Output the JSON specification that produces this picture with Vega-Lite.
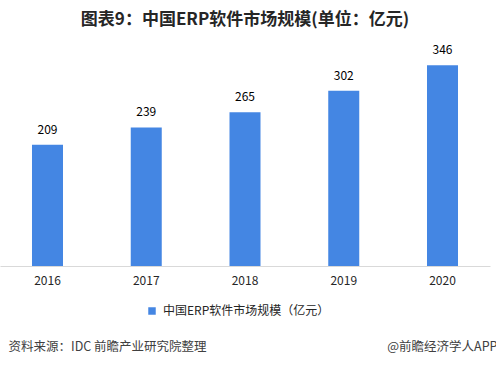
{
  "$schema": "https://vega.github.io/schema/vega-lite/v6.json",
  "autosize": {"type": "none"},
  "width": 490,
  "height": 232,
  "padding": {"left": 0, "top": 34, "right": 6, "bottom": 100},
  "background": "white",
  "config": {
    "font": "Noto Sans CJK SC",
    "view": {"stroke": null}
  },
  "title": {
    "text": "图表9：中国ERP软件市场规模(单位：亿元)",
    "fontSize": 17,
    "fontWeight": "bold",
    "color": "#262626",
    "anchor": "middle",
    "offset": 5
  },
  "data": {
    "values": [
      {"year": "2016", "value": 209, "series": "中国ERP软件市场规模（亿元）"},
      {"year": "2017", "value": 239, "series": "中国ERP软件市场规模（亿元）"},
      {"year": "2018", "value": 265, "series": "中国ERP软件市场规模（亿元）"},
      {"year": "2019", "value": 302, "series": "中国ERP软件市场规模（亿元）"},
      {"year": "2020", "value": 346, "series": "中国ERP软件市场规模（亿元）"}
    ]
  },
  "encoding": {
    "x": {
      "field": "year",
      "type": "ordinal",
      "scale": {"paddingInner": 0.686, "paddingOuter": 0.324},
      "axis": {
        "title": "资料来源：IDC 前瞻产业研究院整理",
        "titleAnchor": "start",
        "titleAlign": "left",
        "titleBaseline": "middle",
        "titleX": 8,
        "titleY": 80,
        "titleFontSize": 12.5,
        "titleFontWeight": "normal",
        "titleColor": "#404040",
        "labelAngle": 0,
        "labelFontSize": 12,
        "labelColor": "#262626",
        "labelPadding": 9,
        "ticks": false,
        "domainColor": "#d9d9d9",
        "domainWidth": 1
      }
    },
    "y": {
      "field": "value",
      "type": "quantitative",
      "scale": {"domain": [0, 400]},
      "axis": {
        "title": "@前瞻经济学人APP",
        "titleAngle": 0,
        "titleAlign": "right",
        "titleBaseline": "middle",
        "titleX": 497,
        "titleY": 312,
        "titleFontSize": 12.5,
        "titleFontWeight": "normal",
        "titleColor": "#404040",
        "labels": false,
        "ticks": false,
        "domain": false,
        "grid": false
      }
    }
  },
  "layer": [
    {
      "mark": {"type": "bar"},
      "encoding": {
        "color": {
          "field": "series",
          "type": "nominal",
          "scale": {"range": ["#4486e3"]},
          "legend": {
            "title": null,
            "orient": "none",
            "legendX": 146,
            "legendY": 271,
            "direction": "horizontal",
            "symbolType": "square",
            "symbolSize": 56,
            "symbolStrokeWidth": 0,
            "labelFontSize": 12,
            "labelLimit": 400,
            "labelColor": "#262626",
            "labelOffset": 5,
            "padding": 0
          }
        }
      }
    },
    {
      "mark": {"type": "text", "baseline": "bottom", "dy": -8, "fontSize": 12, "color": "#000000"},
      "encoding": {
        "text": {"field": "value", "type": "quantitative"}
      }
    }
  ]
}
